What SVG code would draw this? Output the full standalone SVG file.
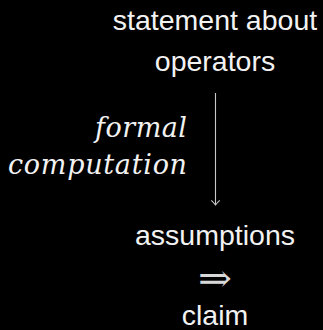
<svg xmlns="http://www.w3.org/2000/svg" width="323" height="330" viewBox="0 0 323 330">
  <defs>
    <style>
      .node { font-family: "Liberation Sans", Arial, sans-serif; font-size: 28.5px; fill: #f2f2f2; text-anchor: middle; }
      .label { font-family: "DejaVu Serif", serif; font-style: italic; font-size: 27px; fill: #f2f2f2; text-anchor: end; }
      .edge { stroke: #c8c8c8; stroke-width: 1.1; fill: none; }
      .imp { font-family: "DejaVu Serif", serif; font-size: 30px; fill: #d8d8d8; text-anchor: middle; }
    </style>
  </defs>
  <rect width="323" height="330" fill="#000"/>

  <g id="statement">
    <text class="node" x="215" y="29.5">statement about</text>
    <text class="node" x="215" y="71">operators</text>
  </g>

  <g id="connectors">
    <line class="edge" x1="215.5" y1="93" x2="215.5" y2="204.5"/>
    <path class="edge" d="M211.3,200.3 Q213.8,202.6 215.5,205 Q217.2,202.6 219.7,200.3"/>
    <text class="label" x="187" y="137" textLength="92" lengthAdjust="spacing">formal</text>
    <text class="label" x="187" y="173.5" textLength="179" lengthAdjust="spacing">computation</text>
  </g>

  <g id="result">
    <text class="node" x="215" y="244.5">assumptions</text>
    <text class="imp" transform="translate(215,0) scale(1.35,1.25)" x="0" y="233">⇒</text>
    <text class="node" x="215" y="325">claim</text>
  </g>
</svg>
